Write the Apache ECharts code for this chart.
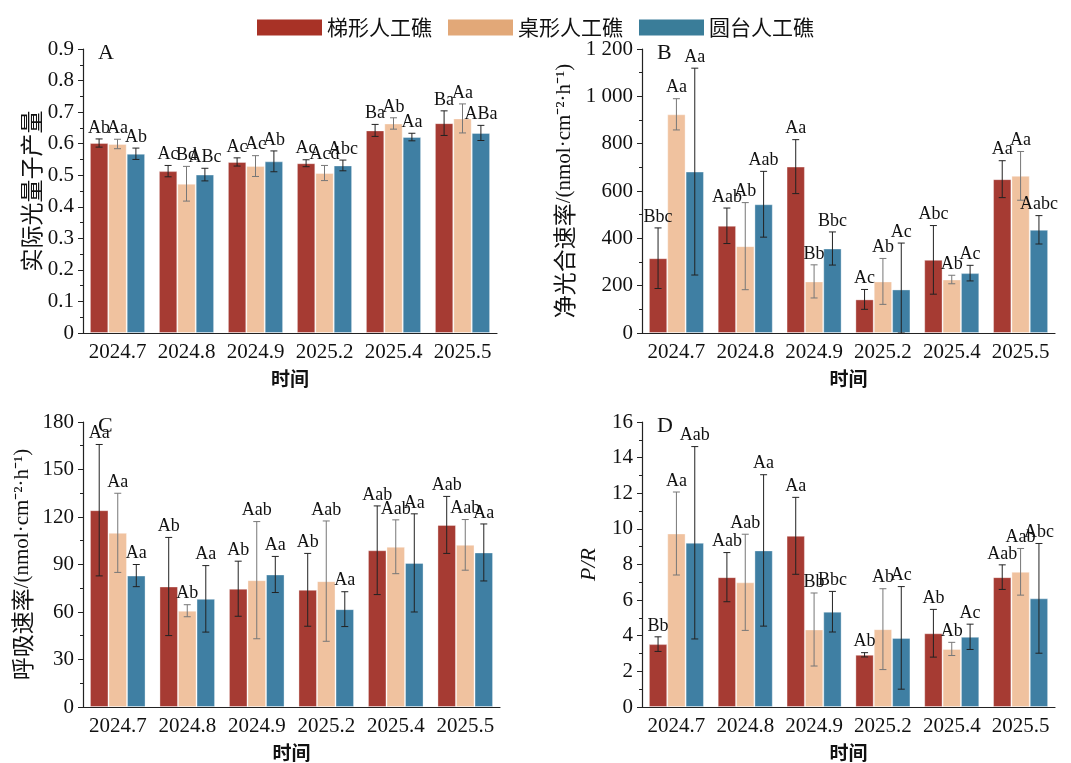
<!DOCTYPE html>
<html lang="zh">
<head>
<meta charset="UTF-8">
<title>人工礁 光合参数</title>
<script src="https://cdn.jsdelivr.net/npm/echarts@6/dist/echarts.min.js"></script>
<style>
  html, body { margin: 0; padding: 0; background: #fff; }
  #main { width: 1071px; height: 763px; }
</style>
</head>
<body>
<div id="main"></div>
<script>
// 类别（采样时间）
var months = ['2024.7', '2024.8', '2024.9', '2025.2', '2025.4', '2025.5'];
var reefNames = ['梯形人工礁', '桌形人工礁', '圆台人工礁'];

// A 实际光量子产量 (均值 / 标准差 / 显著性字母)
var yieldTi = [0.602, 0.513, 0.542, 0.538, 0.642, 0.665];
var yieldZhuo = [0.599, 0.473, 0.529, 0.507, 0.664, 0.680];
var yieldYuan = [0.568, 0.502, 0.544, 0.531, 0.621, 0.634];
var yieldTiSd = [0.013, 0.018, 0.013, 0.011, 0.019, 0.039];
var yieldZhuoSd = [0.015, 0.055, 0.033, 0.024, 0.018, 0.046];
var yieldYuanSd = [0.018, 0.020, 0.033, 0.017, 0.012, 0.024];
var yieldTiLbl = ['Ab', 'Ac', 'Ac', 'Ac', 'Ba', 'Ba'];
var yieldZhuoLbl = ['Aa', 'Bd', 'Ac', 'Acd', 'Ab', 'Aa'];
var yieldYuanLbl = ['Ab', 'ABc', 'Ab', 'Abc', 'Aa', 'ABa'];

// B 净光合速率
var pnTi = [316, 453, 703, 142, 309, 650];
var pnZhuo = [924, 367, 218, 218, 226, 664];
var pnYuan = [682, 544, 357, 184, 253, 436];
var pnTiSd = [128, 75, 114, 42, 145, 78];
var pnZhuoSd = [66, 184, 70, 97, 18, 103];
var pnYuanSd = [437, 139, 70, 196, 33, 60];
var pnTiLbl = ['Bbc', 'Aab', 'Aa', 'Ac', 'Abc', 'Aa'];
var pnZhuoLbl = ['Aa', 'Ab', 'Bb', 'Ab', 'Ab', 'Aa'];
var pnYuanLbl = ['Aa', 'Aab', 'Bbc', 'Ac', 'Ac', 'Aabc'];

// C 呼吸速率
var rTi = [124.3, 76.1, 74.7, 74.0, 99.0, 115.0];
var rZhuo = [110.0, 60.8, 80.1, 79.5, 101.2, 102.4];
var rYuan = [83.0, 68.3, 83.7, 61.8, 91.0, 97.6];
var rTiSd = [41.5, 31.0, 17.4, 23.0, 28.0, 18.0];
var rZhuoSd = [25.0, 3.8, 37.0, 38.0, 17.0, 16.0];
var rYuanSd = [7.0, 21.0, 11.4, 11.0, 31.0, 18.0];
var rTiLbl = ['Aa', 'Ab', 'Ab', 'Ab', 'Aab', 'Aab'];
var rZhuoLbl = ['Aa', 'Ab', 'Aab', 'Aab', 'Aab', 'Aab'];
var rYuanLbl = ['Aa', 'Aa', 'Aa', 'Aa', 'Aa', 'Aa'];

// D P/R
var prTi = [3.53, 7.29, 9.61, 2.93, 4.14, 7.29];
var prZhuo = [9.74, 7.00, 4.35, 4.37, 3.26, 7.59];
var prYuan = [9.22, 8.79, 5.35, 3.88, 3.94, 6.10];
var prTiSd = [0.41, 1.38, 2.16, 0.12, 1.34, 0.69];
var prZhuoSd = [2.33, 2.70, 2.05, 2.27, 0.37, 1.31];
var prYuanSd = [5.40, 4.25, 1.14, 2.88, 0.71, 3.08];
var prTiLbl = ['Bb', 'Aab', 'Aa', 'Ab', 'Ab', 'Aab'];
var prZhuoLbl = ['Aa', 'Aab', 'Bb', 'Ab', 'Ab', 'Aab'];
var prYuanLbl = ['Aab', 'Aa', 'Bbc', 'Ac', 'Ac', 'Abc'];

var barColors = ['#a63b33', '#f0c29f', '#3f7fa3'];
var legendColors = ['#a83226', '#e2a878', '#3a7d99'];
var errColors = ['#222', '#777', '#222'];
var serif = '"Liberation Serif", "Times New Roman", "Noto Sans CJK SC", serif';

var panels = [
    { letter: 'A', means: [yieldTi, yieldZhuo, yieldYuan], sds: [yieldTiSd, yieldZhuoSd, yieldYuanSd],
      lbls: [yieldTiLbl, yieldZhuoLbl, yieldYuanLbl], max: 0.9, interval: 0.1,
      name: '{cn|实际光量子产量}', nameGap: 40,
      grid: { left: 83, top: 49, width: 414, height: 284 } },
    { letter: 'B', means: [pnTi, pnZhuo, pnYuan], sds: [pnTiSd, pnZhuoSd, pnYuanSd],
      lbls: [pnTiLbl, pnZhuoLbl, pnYuanLbl], max: 1200, interval: 200,
      name: '{cn|净光合速率}{en|/(nmol·cm⁻²·h⁻¹)}', nameGap: 66,
      grid: { left: 642, top: 49, width: 413, height: 284 } },
    { letter: 'C', means: [rTi, rZhuo, rYuan], sds: [rTiSd, rZhuoSd, rYuanSd],
      lbls: [rTiLbl, rZhuoLbl, rYuanLbl], max: 180, interval: 30,
      name: '{cn|呼吸速率}{en|/(nmol·cm⁻²·h⁻¹)}', nameGap: 49,
      grid: { left: 83, top: 422, width: 417, height: 286 } },
    { letter: 'D', means: [prTi, prZhuo, prYuan], sds: [prTiSd, prZhuoSd, prYuanSd],
      lbls: [prTiLbl, prZhuoLbl, prYuanLbl], max: 16, interval: 2,
      name: '{it|P/R}', nameGap: 42,
      grid: { left: 642, top: 422, width: 413, height: 286 } }
];

function thousand(v) {
    var s = String(v);
    if (s.length > 3) s = s.slice(0, s.length - 3) + ' ' + s.slice(-3);
    return s;
}

var grids = [], xAxes = [], yAxes = [], series = [], titles = [];

panels.forEach(function (p, pi) {
    grids.push(p.grid);
    titles.push({
        text: p.letter, left: p.grid.left + 10, top: p.grid.top - 12,
        textStyle: { fontFamily: serif, fontSize: 22, fontWeight: 'normal', color: '#111' }
    });
    xAxes.push({
        type: 'category', gridIndex: pi, data: months,
        name: '时间', nameLocation: 'middle', nameGap: 36,
        nameTextStyle: { fontFamily: '"Noto Sans CJK SC", sans-serif', fontSize: 19, fontWeight: 'bold', color: '#111' },
        axisLine: { lineStyle: { color: '#222', width: 1.2 } },
        axisTick: { alignWithLabel: true, length: 5, lineStyle: { color: '#222' } },
        axisLabel: { fontFamily: serif, fontSize: 21, color: '#111', margin: 9, interval: 0 }
    });
    yAxes.push({
        type: 'value', gridIndex: pi, min: 0, max: p.max, interval: p.interval,
        name: p.name, nameLocation: 'middle', nameGap: p.nameGap,
        nameTextStyle: {
            color: '#111',
            rich: {
                cn: { fontFamily: '"Noto Sans CJK SC", sans-serif', fontSize: 23, color: '#111' },
                en: { fontFamily: serif, fontSize: 21, color: '#111' },
                it: { fontFamily: serif, fontSize: 22, fontStyle: 'italic', color: '#111' }
            }
        },
        axisLine: { show: true, lineStyle: { color: '#222', width: 1.2 } },
        axisTick: { show: true, inside: false, length: 5, lineStyle: { color: '#222' } },
        minorTick: { show: true, splitNumber: 2, length: 3, lineStyle: { color: '#222' } },
        splitLine: { show: false },
        axisLabel: {
            fontFamily: serif, fontSize: 21, color: '#111', margin: 9,
            formatter: p.letter === 'B' ? thousand : function (v) { return String(+v.toFixed(2)); }
        }
    });

    for (var k = 0; k < 3; k++) {
        series.push({
            type: 'bar', name: reefNames[k], xAxisIndex: pi, yAxisIndex: pi,
            data: p.means[k], barGap: '0%', barCategoryGap: '20%',
            itemStyle: { color: barColors[k], borderColor: 'rgba(255,255,255,0.35)', borderWidth: 1 },
            emphasis: { disabled: true }
        });
    }
    for (var k2 = 0; k2 < 3; k2++) {
        (function (k) {
            var rows = months.map(function (m, i) {
                return [i, p.means[k][i], p.sds[k][i], p.lbls[k][i]];
            });
            series.push({
                type: 'custom', xAxisIndex: pi, yAxisIndex: pi, z: 5,
                data: rows,
                encode: { x: 0, y: 1 },
                renderItem: function (params, api) {
                    var idx = api.value(0), mean = api.value(1), sd = api.value(2);
                    var lbl = rows[params.dataIndex][3];
                    var catW = api.size([1, 0])[0];
                    var bw = catW * 0.8 / 3;
                    var c = api.coord([idx, mean]);
                    var cx = c[0] + (k - 1) * bw;
                    var yTop = api.coord([idx, mean + sd])[1];
                    var yBot = api.coord([idx, Math.max(mean - sd, 0)])[1];
                    var cap = 3.5;
                    var st = { stroke: errColors[k], lineWidth: 1 };
                    return {
                        type: 'group',
                        children: [
                            { type: 'line', shape: { x1: cx, y1: yTop, x2: cx, y2: yBot }, style: st },
                            { type: 'line', shape: { x1: cx - cap, y1: yTop, x2: cx + cap, y2: yTop }, style: st },
                            { type: 'line', shape: { x1: cx - cap, y1: yBot, x2: cx + cap, y2: yBot }, style: st },
                            { type: 'text', x: cx, y: yTop - 2,
                              style: { text: lbl, align: 'center', verticalAlign: 'bottom',
                                       font: '18px ' + serif, fill: '#111' } }
                        ]
                    };
                }
            });
        })(k2);
    }
});

var chart = echarts.init(document.getElementById('main'), null, { renderer: 'canvas' });
chart.setOption({
    animation: false,
    backgroundColor: '#fff',
    title: titles,
    legend: {
        top: 12, left: 'center', itemWidth: 65, itemHeight: 16, itemGap: 16,
        textStyle: { fontFamily: '"Noto Sans CJK SC", sans-serif', fontSize: 21, color: '#111' },
        data: reefNames.map(function (n, i) {
            return { name: n, icon: 'rect', itemStyle: { color: legendColors[i], borderWidth: 0 } };
        })
    },
    grid: grids,
    xAxis: xAxes,
    yAxis: yAxes,
    series: series
});
</script>
</body>
</html>
